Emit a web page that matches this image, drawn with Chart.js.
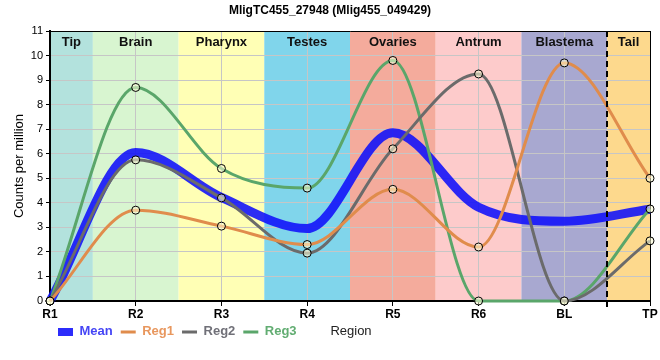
<!DOCTYPE html>
<html><head><meta charset="utf-8">
<script src="https://cdn.jsdelivr.net/npm/chart.js@4"></script>
<style>html,body{margin:0;padding:0;background:#fff}#wrap{width:660px;height:360px;position:relative}</style>
</head><body><div id="wrap"><canvas id="c"></canvas></div>
<script>
const categories = ['R1','R2','R3','R4','R5','R6','BL','TP'];
const regionNames = ['Tip','Brain','Pharynx','Testes','Ovaries','Antrum','Blastema','Tail'];
const regionColors = ['#b3e2dd','#d8f5d0','#ffffb5','#80d5eb','#f4ab9c','#fdcbcb','#a8a8d0','#fdd98d'];
const meanValues = [0, 6.05, 4.22, 2.95, 6.85, 3.82, 3.25, 3.74];
const reg1Values = [0, 3.7, 3.05, 2.3, 4.55, 2.2, 9.7, 5.0];
const reg2Values = [0, 5.75, 4.2, 1.95, 6.2, 9.25, 0, 2.45];
const reg3Values = [0, 8.7, 5.4, 4.6, 9.8, 0, 0, 3.75];
const yTickValues = [0,1,2,3,4,5,6,7,8,9,10,11];
const seriesNames = ['Mean','Reg1','Reg2','Reg3'];
const seriesColors = ['rgba(15,15,250,0.88)','#e08c4c','#6b6b6b','#5aa66a'];
const legendTextColors = ['#4545f5','#e8975e','#707078','#62ad72'];
const dashedBoundaryAfter = 'BL';
const FONT = '"Liberation Sans", Arial, sans-serif';

const bandsPlugin = {
  id: 'bands',
  afterLayout(chart) {
    const lg = chart.legend;
    if (lg) { lg.top -= 5; lg.bottom -= 5; }
  },
  beforeDraw(chart) {
    const {ctx, chartArea: a, scales: {x}} = chart;
    ctx.save();
    regionNames.forEach((name, i) => {
      const l = Math.max(a.left, x.getPixelForValue(i - 0.5));
      const r = Math.min(a.right, x.getPixelForValue(i + 0.5));
      ctx.fillStyle = regionColors[i];
      ctx.fillRect(l, a.top, r - l, a.bottom - a.top);
    });
    ctx.restore();
  },
  beforeDatasetsDraw(chart) {
    const {ctx, chartArea: a, scales: {x}} = chart;
    ctx.save();
    ctx.font = 'bold 13px ' + FONT;
    ctx.fillStyle = '#111';
    ctx.textAlign = 'center';
    ctx.textBaseline = 'middle';
    regionNames.forEach((name, i) => {
      const l = Math.max(a.left, x.getPixelForValue(i - 0.5));
      const r = Math.min(a.right, x.getPixelForValue(i + 0.5));
      ctx.fillText(name, (l + r) / 2, a.top + 11);
    });
    ctx.strokeStyle = '#000';
    ctx.lineWidth = 1;
    ctx.beginPath();
    ctx.moveTo(a.left, a.top + 0.5); ctx.lineTo(a.right + 0.5, a.top + 0.5);
    ctx.moveTo(a.right + 0.5, a.top); ctx.lineTo(a.right + 0.5, a.bottom);
    ctx.stroke();
    ctx.restore();
  },
  afterDatasetsDraw(chart) {
    const {ctx, chartArea: a, scales: {x}} = chart;
    const idx = categories.indexOf(dashedBoundaryAfter);
    const px = Math.round(x.getPixelForValue(idx + 0.5));
    ctx.save();
    ctx.strokeStyle = '#000';
    ctx.lineWidth = 2;
    ctx.setLineDash([6, 4]);
    ctx.beginPath();
    ctx.moveTo(px, a.top); ctx.lineTo(px, a.bottom);
    ctx.stroke();
    ctx.setLineDash([]);
    ctx.beginPath();
    ctx.moveTo(px, a.bottom); ctx.lineTo(px, a.bottom + 6);
    ctx.stroke();
    ctx.restore();
  },
  afterDraw(chart) {
    const {ctx, chartArea: a} = chart;
    const hb = chart.legend && chart.legend.legendHitBoxes && chart.legend.legendHitBoxes[0];
    const y = hb ? hb.top + hb.height / 2 : 330;
    ctx.save();
    ctx.font = '13px ' + FONT;
    ctx.fillStyle = '#222';
    ctx.textAlign = 'center';
    ctx.textBaseline = 'middle';
    ctx.fillText('Region', (a.left + a.right) / 2 + 1, y);
    ctx.restore();
  }
};

function regDataset(i, values) {
  return {
    label: seriesNames[i], data: values,
    borderColor: seriesColors[i], borderWidth: 3,
    cubicInterpolationMode: 'monotone', fill: false,
    pointRadius: 4, pointBorderColor: '#000', pointBorderWidth: 1,
    pointBackgroundColor: 'rgba(255,255,215,0.55)', order: 1, clip: 6
  };
}

new Chart(document.getElementById('c'), {
  type: 'line',
  data: {
    labels: categories,
    datasets: [
      { label: seriesNames[0], data: meanValues, borderColor: seriesColors[0], borderWidth: 9,
        cubicInterpolationMode: 'monotone', fill: false, pointRadius: 0, order: 5, clip: 6 },
      regDataset(1, reg1Values),
      regDataset(2, reg2Values),
      regDataset(3, reg3Values)
    ]
  },
  options: {
    responsive: true, maintainAspectRatio: false, animation: false,
    layout: { padding: { left: 10, right: 10, top: 0, bottom: 6.6 } },
    scales: {
      x: {
        type: 'category', offset: false,
        grid: { color: '#c6c6c6', tickColor: '#000', tickLength: 5, lineWidth: 1 },
        border: { color: '#000', width: 2 },
        ticks: { color: '#000', font: { family: FONT, size: 12, weight: 'bold' }, padding: 1, maxRotation: 0 }
      },
      y: {
        min: 0, max: 11,
        afterBuildTicks(s) { s.ticks = yTickValues.map(v => ({ value: v })); },
        grid: { color: '#c6c6c6', tickColor: '#000', tickLength: 4, lineWidth: 1 },
        border: { color: '#000', width: 2 },
        ticks: { color: '#000', font: { family: FONT, size: 11 }, padding: 3 },
        title: { display: true, text: 'Counts per million', color: '#000', font: { family: FONT, size: 13 }, padding: { top: 2, bottom: 2 } },
        afterFit(s) { s.width = 40; }
      }
    },
    plugins: {
      title: { display: true, text: 'MligTC455_27948 (Mlig455_049429)', color: '#000',
        font: { family: FONT, size: 12, weight: 'bold' }, padding: { top: 3, bottom: 13.6 } },
      tooltip: { enabled: false },
      legend: {
        position: 'bottom', align: 'start', fullSize: false,
        labels: {
          usePointStyle: true, pointStyleWidth: 15, boxHeight: 8, padding: 8,
          font: { family: FONT, size: 13, weight: 'bold' },
          generateLabels(chart) {
            return seriesNames.map((n, i) => ({
              text: n, datasetIndex: i, hidden: false,
              fillStyle: seriesColors[i], strokeStyle: seriesColors[i],
              lineWidth: i === 0 ? 0 : 3,
              pointStyle: i === 0 ? 'rect' : 'line',
              fontColor: legendTextColors[i]
            }));
          }
        }
      }
    }
  },
  plugins: [bandsPlugin]
});
</script></body></html>
